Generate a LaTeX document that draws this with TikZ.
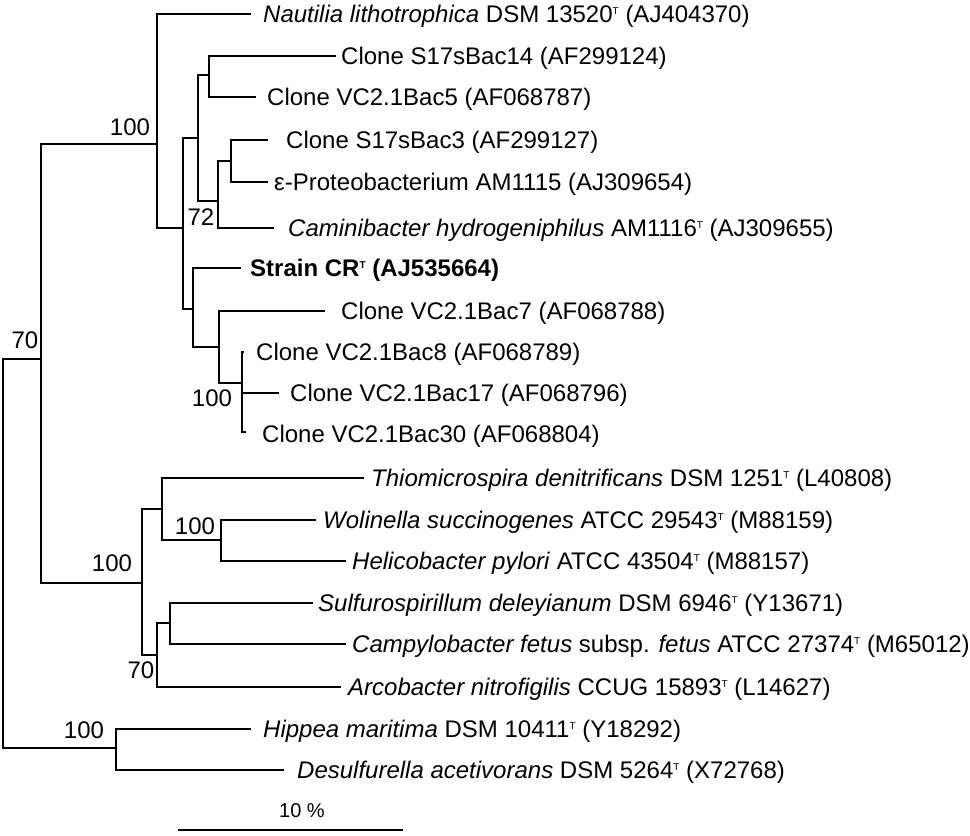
\documentclass[tikz,border=0pt]{standalone}
\usepackage{fontspec}
\setmainfont{Liberation Sans}
\newcommand\typT{\raisebox{8pt}{\fontsize{10}{10}\selectfont T}}
\begin{document}
\begin{tikzpicture}[x=1pt,y=-1pt,
  br/.style={line width=1.6pt,line cap=rect},
  leaf/.style={anchor=west,inner sep=0pt,text height=17pt,text depth=0pt,font=\fontsize{24}{28}\selectfont},
  supp/.style={inner sep=0pt,text height=17pt,text depth=0pt,font=\fontsize{24}{28}\selectfont}]
\useasboundingbox (0,0) rectangle (970,836);
% internal nodes
\coordinate (R) at (3,553);
\coordinate (I) at (41,359);
\coordinate (A) at (157,144);
\coordinate (B) at (183,228);
\coordinate (C) at (198,138);
\coordinate (D) at (209,75);
\coordinate (E) at (218,201);
\coordinate (F) at (231,161);
\coordinate (G) at (193,309);
\coordinate (H) at (219,347);
\coordinate (K) at (242,383);
\coordinate (L) at (142,583);
\coordinate (M) at (162,509);
\coordinate (N) at (221,540);
\coordinate (P) at (157,655);
\coordinate (Q) at (170,623);
\coordinate (S) at (116,748);
% leaf ends
\coordinate (l1) at (250,14);
\coordinate (l2) at (335,56);
\coordinate (l3) at (255,97);
\coordinate (l4) at (267,140);
\coordinate (l5) at (267,182);
\coordinate (l6) at (273,228);
\coordinate (l7) at (240,268);
\coordinate (l8) at (324,311);
\coordinate (l9) at (243,352);
\coordinate (l10) at (278,393);
\coordinate (l11) at (245,432);
\coordinate (l12) at (363,478);
\coordinate (l13) at (315,520);
\coordinate (l14) at (345,561);
\coordinate (l15) at (312,603);
\coordinate (l16) at (345,644);
\coordinate (l17) at (340,687);
\coordinate (l18) at (250,729);
\coordinate (l19) at (283,770);
% branches
\draw[br] (R) |- (I); \draw[br] (R) |- (S);
\draw[br] (I) |- (A); \draw[br] (I) |- (L);
\draw[br] (A) |- (l1); \draw[br] (A) |- (B);
\draw[br] (B) |- (C); \draw[br] (B) |- (G);
\draw[br] (C) |- (D); \draw[br] (C) |- (E);
\draw[br] (D) |- (l2); \draw[br] (D) |- (l3);
\draw[br] (E) |- (F); \draw[br] (E) |- (l6);
\draw[br] (F) |- (l4); \draw[br] (F) |- (l5);
\draw[br] (G) |- (l7); \draw[br] (G) |- (H);
\draw[br] (H) |- (l8); \draw[br] (H) |- (K);
\draw[br] (K) |- (l9); \draw[br] (K) |- (l10); \draw[br] (K) |- (l11);
\draw[br] (L) |- (M); \draw[br] (L) |- (P);
\draw[br] (M) |- (l12); \draw[br] (M) |- (N);
\draw[br] (N) |- (l13); \draw[br] (N) |- (l14);
\draw[br] (P) |- (Q); \draw[br] (P) |- (l17);
\draw[br] (Q) |- (l15); \draw[br] (Q) |- (l16);
\draw[br] (S) |- (l18); \draw[br] (S) |- (l19);
% leaf labels
\node[leaf] (t1) at (263,14) {\textit{Nautilia lithotrophica} DSM 13520\typT{} (AJ404370)};
\node[leaf] (t2) at (341,56) {Clone S17sBac14 (AF299124)};
\node[leaf] (t3) at (267,97) {Clone VC2.1Bac5 (AF068787)};
\node[leaf] (t4) at (286,140) {Clone S17sBac3 (AF299127)};
\node[leaf] (t5) at (274,182) {ε-Proteobacterium AM1115 (AJ309654)};
\node[leaf] (t6) at (288,228) {\textit{Caminibacter hydrogeniphilus} AM1116\typT{} (AJ309655)};
\node[leaf] (t7) at (250,268) {\bfseries Strain CR\typT{} (AJ535664)};
\node[leaf] (t8) at (341,311) {Clone VC2.1Bac7 (AF068788)};
\node[leaf] (t9) at (256,352) {Clone VC2.1Bac8 (AF068789)};
\node[leaf] (t10) at (290,393) {Clone VC2.1Bac17 (AF068796)};
\node[leaf] (t11) at (262,434) {Clone VC2.1Bac30 (AF068804)};
\node[leaf] (t12) at (371,478) {\textit{Thiomicrospira denitrificans} DSM 1251\typT{} (L40808)};
\node[leaf] (t13) at (323,520) {\textit{Wolinella succinogenes} ATCC 29543\typT{} (M88159)};
\node[leaf] (t14) at (352,561) {\textit{Helicobacter pylori} ATCC 43504\typT{} (M88157)};
\node[leaf] (t15) at (318,603) {\textit{Sulfurospirillum deleyianum} DSM 6946\typT{} (Y13671)};
\node[leaf] (t16) at (352,644) {\textit{Campylobacter fetus} subsp. \textit{fetus} ATCC 27374\typT{} (M65012)};
\node[leaf] (t17) at (348,687) {\textit{Arcobacter nitrofigilis} CCUG 15893\typT{} (L14627)};
\node[leaf] (t18) at (263,729) {\textit{Hippea maritima} DSM 10411\typT{} (Y18292)};
\node[leaf] (t19) at (297,770) {\textit{Desulfurella acetivorans} DSM 5264\typT{} (X72768)};
% support values
\node[supp] (s1) at (130,127) {100};
\node[supp] (s2) at (201,217) {72};
\node[supp] (s3) at (212,398) {100};
\node[supp] (s4) at (25,340) {70};
\node[supp] (s5) at (112,563) {100};
\node[supp] (s6) at (195,526) {100};
\node[supp] (s7) at (141,670) {70};
\node[supp] (s8) at (84,730) {100};
% scale bar
\coordinate (sb1) at (178,830);
\coordinate (sb2) at (403,830);
\draw[line width=1.6pt] (sb1) -- (sb2);
\node[inner sep=0pt,font=\fontsize{20}{24}\selectfont] (sbl) at (302,811) {10 \%};
\end{tikzpicture}
\end{document}
